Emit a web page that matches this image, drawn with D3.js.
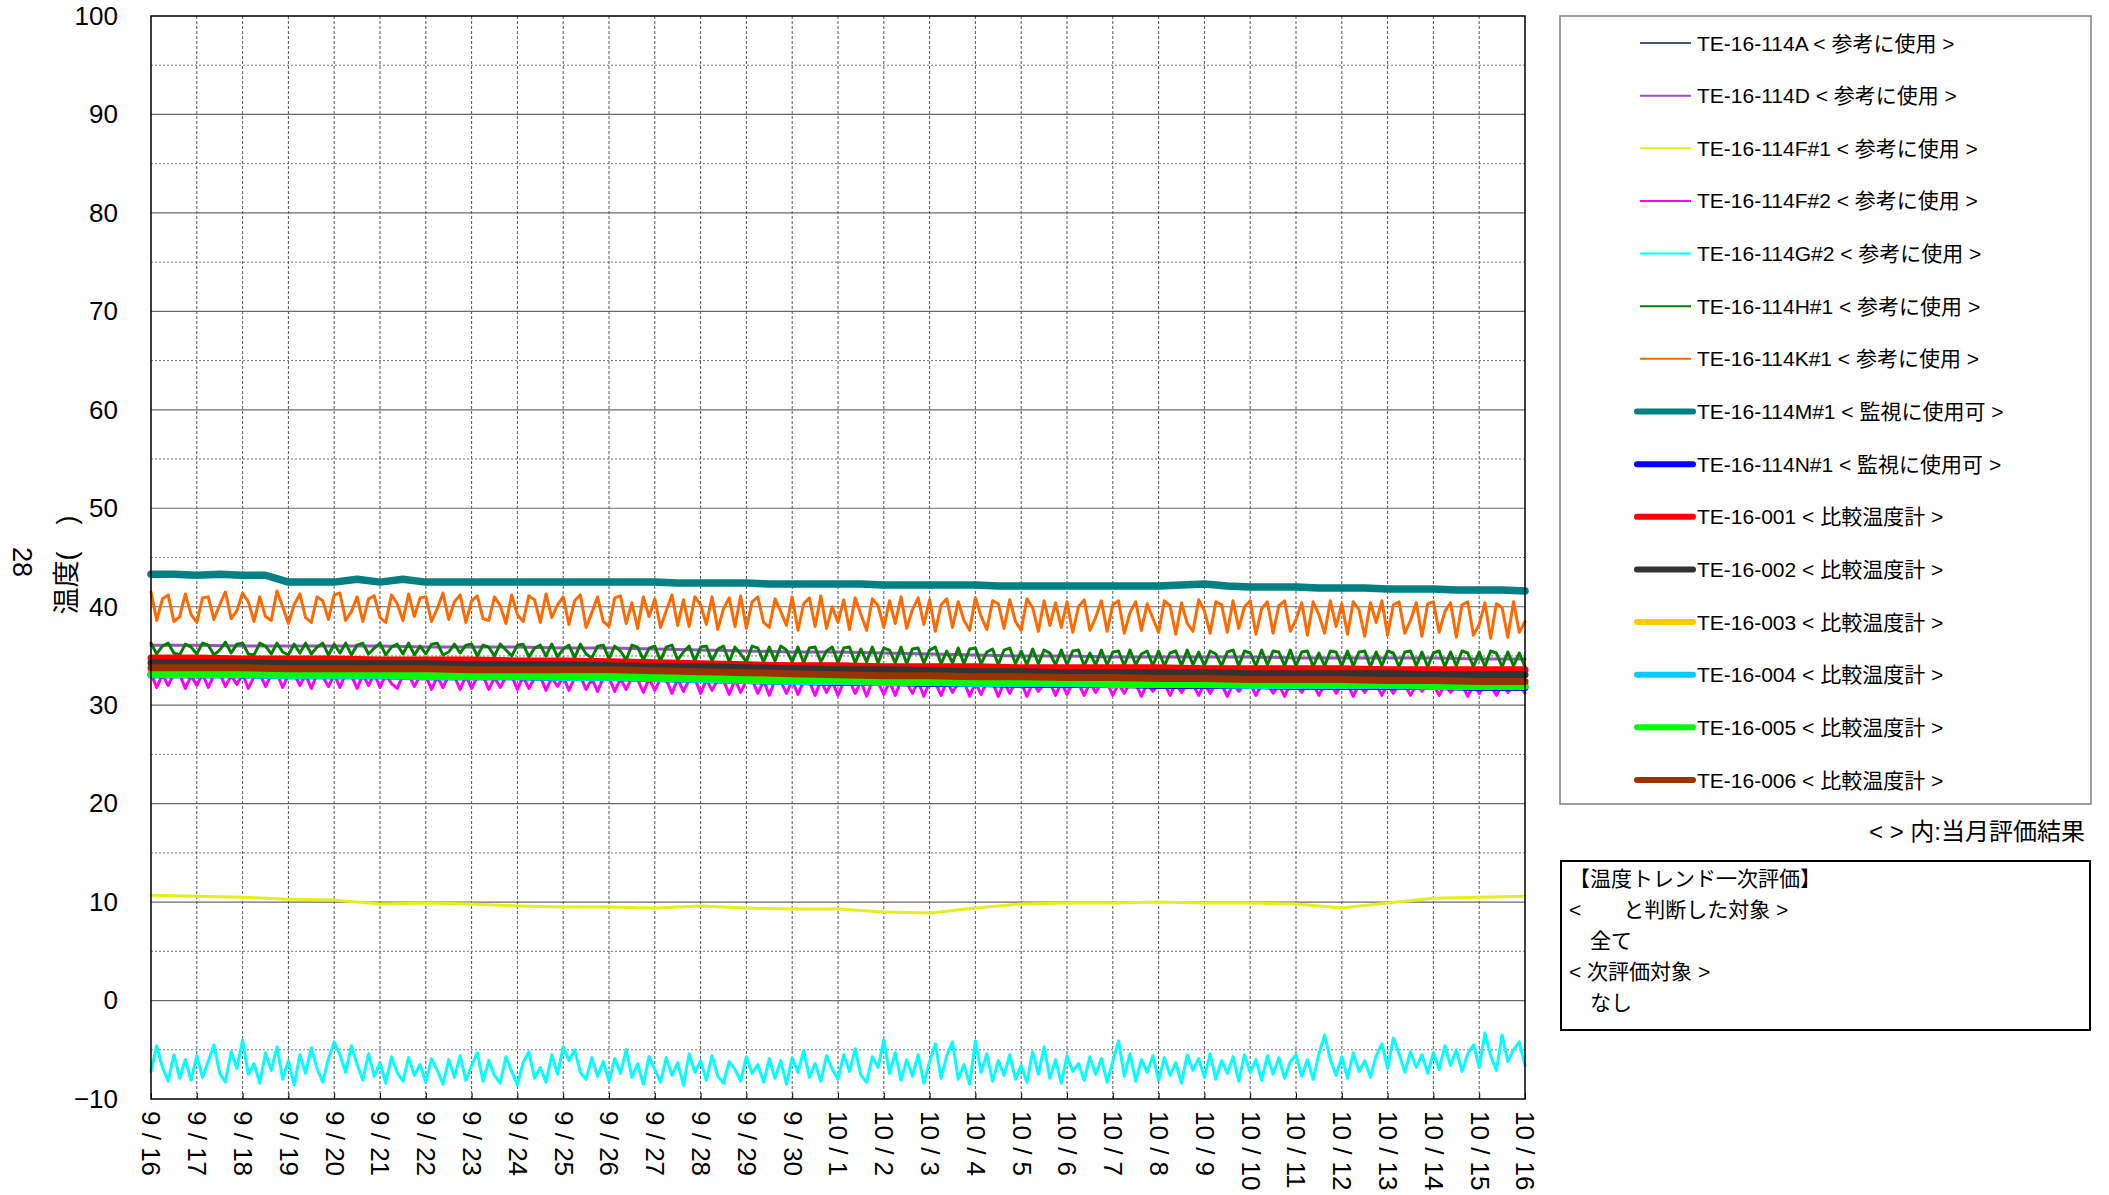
<!DOCTYPE html>
<html>
<head>
<meta charset="utf-8">
<script src="https://cdn.jsdelivr.net/npm/d3@7"></script>
<style>
  body { margin: 0; background: #fff; }
  svg { display: block; font-family: "Liberation Sans", "Noto Sans CJK JP", sans-serif; }
</style>
</head>
<body>
<svg id="chart"></svg>
<script>
// tick labels (one per day, 9/16 .. 10/16)
const dayLabels = ["9/16","9/17","9/18","9/19","9/20","9/21","9/22","9/23","9/24","9/25","9/26","9/27","9/28","9/29","9/30",
  "10/1","10/2","10/3","10/4","10/5","10/6","10/7","10/8","10/9","10/10","10/11","10/12","10/13","10/14","10/15","10/16"];
const yTicks = [-10, 0, 10, 20, 30, 40, 50, 60, 70, 80, 90, 100];

// daily values (1 point per day)
const te114A = [33.0,33.0,33.0,32.9,32.9,32.9,32.8,32.8,32.8,32.7,32.7,32.6,32.5,32.4,32.3,32.3,32.2,32.2,32.1,32.1,32.1,32.0,32.0,32.0,31.9,31.9,31.9,31.9,31.9,31.8,31.8];
const te114D = [36.1,36.1,36.0,36.0,36.0,36.0,35.9,35.9,35.9,35.8,35.8,35.7,35.6,35.5,35.4,35.4,35.3,35.2,35.1,35.0,35.0,34.9,34.9,34.9,34.9,34.8,34.8,34.8,34.8,34.7,34.7];
const te114F1 = [10.7,10.6,10.5,10.3,10.2,9.8,9.9,9.8,9.6,9.5,9.5,9.4,9.6,9.4,9.3,9.3,9.0,8.9,9.4,9.8,9.9,9.9,10.0,9.9,9.9,9.8,9.4,9.9,10.4,10.5,10.6];
const te114N1 = [33.1,33.1,33.1,33.0,33.0,33.0,32.9,32.9,32.9,32.8,32.8,32.7,32.6,32.5,32.4,32.3,32.3,32.2,32.2,32.1,32.1,32.1,32.0,32.0,32.0,31.9,31.9,31.9,31.9,31.8,31.8];
const te001 = [34.8,34.8,34.7,34.7,34.7,34.6,34.6,34.6,34.5,34.5,34.4,34.3,34.2,34.1,34.0,34.0,33.9,33.9,33.9,33.8,33.8,33.8,33.8,33.7,33.7,33.7,33.7,33.6,33.6,33.6,33.6];
const te002 = [34.3,34.3,34.3,34.2,34.2,34.2,34.2,34.1,34.1,34.1,34.0,33.9,33.9,33.8,33.7,33.6,33.6,33.5,33.4,33.4,33.3,33.3,33.3,33.3,33.2,33.2,33.2,33.2,33.1,33.1,33.1];
const te003 = [33.5,33.5,33.5,33.4,33.4,33.4,33.4,33.3,33.3,33.3,33.3,33.2,33.1,33.0,32.9,32.8,32.8,32.7,32.7,32.6,32.6,32.5,32.5,32.4,32.4,32.4,32.3,32.3,32.2,32.2,32.2];
const te004 = [33.1,33.1,33.1,33.0,33.0,33.0,32.9,32.9,32.9,32.8,32.8,32.7,32.6,32.5,32.4,32.4,32.3,32.3,32.2,32.2,32.2,32.1,32.1,32.1,32.0,32.0,32.0,32.0,31.9,31.9,31.9];
const te005 = [33.2,33.2,33.2,33.1,33.1,33.1,33.0,33.0,33.0,32.9,32.9,32.8,32.7,32.6,32.5,32.5,32.4,32.4,32.3,32.3,32.3,32.2,32.2,32.2,32.1,32.1,32.1,32.1,32.0,32.0,32.0];
const te006 = [33.8,33.8,33.8,33.7,33.7,33.7,33.7,33.6,33.6,33.6,33.6,33.5,33.4,33.3,33.2,33.1,33.0,33.0,32.9,32.9,32.8,32.8,32.7,32.7,32.6,32.6,32.6,32.5,32.5,32.4,32.4];

// half-day values (2 points per day)
const te114M1 = [43.3,43.3,43.2,43.3,43.2,43.2,42.5,42.5,42.5,42.8,42.5,42.8,42.5,42.5,42.5,42.5,42.5,42.5,42.5,42.5,42.5,
  42.5,42.5,42.4,42.4,42.4,42.4,42.3,42.3,42.3,42.3,42.3,42.2,42.2,42.2,42.2,42.2,42.1,42.1,42.1,42.1,
  42.1,42.1,42.1,42.1,42.2,42.3,42.1,42.0,42.0,42.0,41.9,41.9,41.9,41.8,41.8,41.8,41.7,41.7,41.7,41.6];

// 3-hourly values (8 points per day)
const te114F2 = [
  33.2,31.8,33.1,32.0,33.2,33.1,31.7,33.0, 32.0,33.2,31.8,33.1,33.2,31.9,33.0,32.1,
  33.2,31.7,32.9,33.2,31.9,33.1,33.2,31.8, 33.1,33.2,32.0,33.1,31.7,33.2,32.9,31.9,
  33.1,31.8,33.2,33.0,31.7,33.1,32.0,33.2, 31.8,33.1,32.2,31.7,33.0,33.1,31.9,33.0,
  33.0,31.6,32.9,31.8,33.0,32.9,31.6,33.0, 31.7,32.9,33.0,31.6,32.8,31.8,32.9,33.0,
  31.6,32.9,31.7,32.8,32.9,31.5,32.8,31.9, 32.9,31.5,32.8,32.9,31.6,32.7,31.4,32.8,
  32.8,31.4,32.7,31.6,32.8,32.6,31.3,32.7, 31.5,32.7,32.6,31.2,32.7,31.4,32.6,32.7,
  31.2,32.6,31.5,32.6,32.5,31.1,32.6,31.3, 32.5,32.6,31.2,32.5,31.0,32.6,32.4,31.2,
  32.5,31.1,32.5,32.4,31.0,32.5,31.3,32.4, 31.0,32.4,32.5,31.2,32.4,30.9,32.5,32.3,
  31.1,32.4,31.0,32.5,32.3,31.2,32.4,30.9, 32.4,32.3,31.0,32.4,31.3,32.3,32.4,30.9,
  32.3,31.1,32.4,32.3,30.9,32.3,31.2,32.4, 32.3,30.9,32.3,31.4,32.2,32.3,31.0,32.3,
  31.1,32.3,32.2,31.0,32.3,31.3,32.2,32.3, 31.0,32.2,31.2,32.3,32.2,30.9,32.2,31.4,
  32.2,32.3,31.0,32.2,31.3,32.2,32.1,31.0, 32.2,31.2,32.2,32.1,30.9,32.2,31.4,32.1,
  32.2,31.0,32.1,32.2,31.2,32.1,30.9,32.2, 32.1,31.3,32.2,32.1,31.0,32.1,32.2,31.2,
  32.1,32.2,30.9,32.1,31.3,32.2,32.1,31.0, 32.1,31.2,32.2,32.0,31.0,32.1,31.4,32.1,
  32.1,31.0,32.1,31.3,32.0,32.1,30.9,32.1, 31.2,32.1,32.0,31.0,32.1,31.3,32.0,32.1,
  31.2];
const te114G2 = [
  -7.2,-4.6,-6.8,-8.2,-5.5,-7.9,-6.0,-8.1, -5.6,-7.8,-6.2,-4.5,-7.4,-8.3,-5.2,-6.9,
  -4.0,-7.5,-6.4,-8.4,-5.3,-7.1,-4.7,-8.0, -6.1,-8.6,-5.5,-7.4,-4.8,-6.9,-8.3,-5.9,
  -4.2,-5.5,-7.3,-4.6,-6.5,-8.1,-5.4,-7.7, -6.3,-8.4,-5.7,-7.3,-8.2,-5.8,-7.6,-6.5,
  -8.3,-5.9,-7.1,-8.5,-6.0,-7.8,-5.6,-8.1, -6.6,-5.3,-8.2,-6.1,-7.6,-8.4,-5.7,-7.2,
  -8.6,-6.3,-5.2,-7.9,-6.8,-8.3,-5.5,-7.5, -4.7,-6.1,-5.0,-7.3,-8.0,-5.8,-7.7,-6.2,
  -8.2,-5.9,-7.4,-5.0,-7.8,-6.4,-8.5,-5.7, -7.0,-8.3,-5.8,-7.6,-6.3,-8.6,-5.4,-7.3,
  -6.1,-8.1,-5.6,-7.7,-8.4,-6.2,-7.0,-8.2, -5.7,-7.4,-6.5,-8.3,-5.9,-7.9,-6.1,-8.5,
  -5.8,-7.3,-5.1,-7.8,-6.4,-8.2,-5.6,-7.0, -8.0,-5.5,-7.2,-4.9,-7.6,-8.3,-5.7,-6.8,
  -4.0,-7.4,-5.3,-8.1,-6.0,-7.7,-5.5,-8.4, -6.2,-4.4,-7.9,-5.6,-4.2,-8.0,-6.5,-8.5,
  -4.1,-7.3,-5.4,-8.2,-6.1,-7.6,-5.5,-8.0, -6.6,-8.3,-5.2,-7.5,-4.7,-7.9,-6.0,-8.4,
  -5.6,-7.2,-6.4,-8.1,-5.7,-7.5,-5.9,-8.3, -6.2,-4.1,-7.7,-5.4,-8.2,-6.0,-7.3,-5.6,
  -8.1,-5.8,-7.6,-6.3,-8.4,-5.5,-7.1,-5.9, -7.8,-5.4,-8.0,-6.1,-7.4,-5.7,-8.2,-5.5,
  -7.3,-6.0,-8.1,-5.6,-7.5,-5.8,-7.9,-6.2, -5.5,-7.7,-6.0,-8.0,-5.4,-3.5,-6.0,-7.6,
  -5.7,-7.9,-5.3,-7.2,-6.1,-7.8,-5.6,-4.4, -6.9,-3.8,-5.4,-7.3,-5.2,-6.8,-5.5,-7.4,
  -5.3,-7.0,-4.6,-6.6,-5.0,-7.2,-5.4,-4.5, -6.8,-3.3,-5.6,-7.1,-3.5,-6.2,-5.0,-4.2,
  -6.6];
const te114H1 = [
  36.3,35.2,36.0,36.3,35.3,35.1,36.2,35.9, 35.2,36.3,36.1,35.1,35.6,36.4,35.3,36.2,
  36.3,35.2,35.1,36.3,36.0,35.2,36.3,35.4, 35.1,36.2,35.3,36.3,35.2,35.9,36.3,35.1,
  36.2,35.3,36.3,35.1,36.1,36.3,35.2,35.8, 36.3,35.1,35.9,36.2,35.2,36.3,35.1,36.0,
  35.2,36.2,36.3,35.1,35.4,36.2,35.3,36.1, 36.2,35.0,36.1,35.9,35.0,36.2,35.6,35.0,
  36.1,36.2,34.9,35.8,36.1,35.0,36.2,34.9, 35.7,36.1,34.8,36.2,35.2,34.8,36.0,36.1,
  34.7,36.0,35.5,34.6,36.1,35.9,34.6,35.8, 36.0,34.5,35.9,36.1,34.6,35.4,36.0,34.5,
  35.9,36.0,34.5,35.7,36.0,34.4,35.9,35.2, 34.4,36.0,35.8,34.4,35.9,34.5,36.0,35.6,
  34.4,35.9,34.3,35.8,35.9,34.4,35.5,35.9, 34.3,35.8,35.9,34.3,35.7,34.4,35.9,34.3,
  35.8,35.6,34.3,35.9,34.2,35.7,35.8,34.3, 35.6,35.9,34.2,35.5,34.3,35.8,34.2,35.7,
  35.8,34.2,35.4,35.7,34.1,35.6,35.8,34.2, 35.5,34.1,35.7,34.2,35.6,35.3,34.1,35.6,
  34.1,35.5,35.6,34.0,35.3,34.1,35.6,34.1, 35.4,35.5,34.0,35.6,34.1,35.2,35.5,34.0,
  35.5,34.0,35.3,35.5,34.0,35.6,34.1,35.4, 34.0,35.5,35.2,34.0,35.4,35.6,34.0,35.5,
  35.3,34.0,35.6,34.1,35.5,35.4,34.0,35.6, 34.0,35.4,35.5,33.9,35.3,34.0,35.5,35.4,
  34.0,35.5,34.0,35.4,35.5,33.9,35.4,34.0, 35.5,35.3,33.9,35.4,35.5,34.0,35.4,33.9,
  35.3,35.5,33.9,35.4,34.0,35.5,35.3,33.9, 35.4,33.9,35.5,35.3,33.9,35.4,34.0,35.3,
  33.9];
const te114K1 = [
  41.5,38.6,40.8,41.2,38.5,39.0,41.3,39.2, 38.4,40.9,41.0,38.7,40.2,41.5,38.8,39.6,
  41.4,40.5,38.5,41.0,39.0,38.6,41.6,40.0, 38.3,40.2,41.3,38.9,38.4,41.0,40.6,38.7,
  41.2,41.4,38.6,39.5,41.0,38.5,40.8,41.1, 38.9,38.4,41.2,40.3,38.6,41.3,39.0,40.9,
  41.0,38.5,39.8,41.4,38.7,40.5,41.2,38.4, 40.6,41.1,38.8,38.6,41.0,40.1,38.3,41.2,
  39.2,38.5,41.1,40.7,38.4,41.3,38.9,40.2, 41.0,38.2,40.6,41.2,37.9,39.4,41.0,38.5,
  38.0,40.9,41.1,38.3,40.4,37.8,41.0,39.0, 40.8,37.9,39.6,41.2,38.1,40.7,38.0,41.0,
  40.2,38.2,41.0,37.7,39.8,40.9,38.0,41.1, 37.8,40.5,41.0,38.4,37.9,40.8,39.5,38.1,
  41.0,37.6,40.3,40.9,38.0,41.1,37.8,40.0, 38.4,40.7,37.7,40.9,39.2,37.6,40.8,40.1,
  37.9,40.6,38.3,41.0,37.8,39.7,40.9,38.2, 40.7,37.5,40.2,40.8,37.9,40.5,38.6,37.6,
  40.9,39.0,37.7,40.6,40.3,37.8,40.7,38.5, 37.6,40.8,39.9,37.5,40.6,38.1,40.4,37.9,
  40.5,37.4,40.0,40.7,37.6,38.9,40.6,37.5, 40.2,40.6,37.3,39.4,40.5,37.6,40.3,38.8,
  37.4,40.6,40.1,37.2,40.4,38.3,37.5,40.7, 39.6,37.3,40.5,40.2,37.4,40.6,37.8,40.0,
  40.6,37.2,39.8,40.5,37.3,40.1,40.6,37.5, 38.7,40.4,37.1,40.5,39.2,37.3,40.6,38.0,
  40.3,37.2,40.5,39.7,37.0,40.4,38.4,40.6, 37.1,40.2,40.5,37.3,38.6,40.4,37.0,40.3,
  40.5,37.4,39.5,40.4,36.9,40.2,40.5,37.1, 38.2,40.4,36.8,40.3,39.9,36.9,40.5,37.4,
  38.5];

// series table: name, color, line width, points per day
const series = [
  { name: "TE-16-114A < 参考に使用 >", color: "#3d5a80", width: 3, perDay: 1, values: te114A },
  { name: "TE-16-114D < 参考に使用 >", color: "#9b4fc0", width: 3, perDay: 1, values: te114D },
  { name: "TE-16-114F#1 < 参考に使用 >", color: "#e6ef1e", width: 3, perDay: 1, values: te114F1 },
  { name: "TE-16-114F#2 < 参考に使用 >", color: "#ff00ff", width: 3, perDay: 8, values: te114F2 },
  { name: "TE-16-114G#2 < 参考に使用 >", color: "#00ffff", width: 3, perDay: 8, values: te114G2 },
  { name: "TE-16-114H#1 < 参考に使用 >", color: "#008000", width: 3, perDay: 8, values: te114H1 },
  { name: "TE-16-114K#1 < 参考に使用 >", color: "#ff6a00", width: 3, perDay: 8, values: te114K1 },
  { name: "TE-16-114M#1 < 監視に使用可 >", color: "#008080", width: 7.5, perDay: 2, values: te114M1 },
  { name: "TE-16-114N#1 < 監視に使用可 >", color: "#0000ff", width: 7, perDay: 1, values: te114N1 },
  { name: "TE-16-001 < 比較温度計 >", color: "#ff0000", width: 7, perDay: 1, values: te001 },
  { name: "TE-16-002 < 比較温度計 >", color: "#333333", width: 7, perDay: 1, values: te002 },
  { name: "TE-16-003 < 比較温度計 >", color: "#ffcc00", width: 7, perDay: 1, values: te003 },
  { name: "TE-16-004 < 比較温度計 >", color: "#00ccff", width: 7, perDay: 1, values: te004 },
  { name: "TE-16-005 < 比較温度計 >", color: "#00ff00", width: 7, perDay: 1, values: te005 },
  { name: "TE-16-006 < 比較温度計 >", color: "#993300", width: 7, perDay: 1, values: te006 }
];

const noteText = "< > 内:当月評価結果";
const evalLines = ["【温度トレンド一次評価】", "<　　と判断した対象 >", "　全て", "< 次評価対象 >", "　なし"];

const width = 2109, height = 1195;
const plot = { left: 151, right: 1525, top: 16, bottom: 1099 };

const svg = d3.select("#chart").attr("width", width).attr("height", height);

const x = d3.scaleLinear().domain([0, dayLabels.length - 1]).range([plot.left, plot.right]);
const y = d3.scaleLinear().domain([-10, 100]).range([plot.bottom, plot.top]);

// grid
const grid = svg.append("g");
grid.selectAll(".hminor")
  .data(d3.range(-5, 100, 10))
  .enter().append("line")
  .attr("x1", plot.left).attr("x2", plot.right)
  .attr("y1", d => y(d)).attr("y2", d => y(d))
  .attr("stroke", "#777").attr("stroke-width", 1).attr("stroke-dasharray", "2,2");
grid.selectAll(".hmajor")
  .data(yTicks.slice(1, -1))
  .enter().append("line")
  .attr("x1", plot.left).attr("x2", plot.right)
  .attr("y1", d => y(d)).attr("y2", d => y(d))
  .attr("stroke", "#6a6a6a").attr("stroke-width", 1.2);
grid.selectAll(".vgrid")
  .data(d3.range(1, dayLabels.length - 1))
  .enter().append("line")
  .attr("x1", d => x(d)).attr("x2", d => x(d))
  .attr("y1", plot.top).attr("y2", plot.bottom)
  .attr("stroke", "#555").attr("stroke-width", 1).attr("stroke-dasharray", "3,2");

// lines
const line = d3.line()
  .x(d => x(d.t))
  .y(d => y(d.v));

svg.append("g").selectAll("path")
  .data(series)
  .enter().append("path")
  .attr("d", s => line(s.values.map((v, i) => ({ t: i / s.perDay, v: v }))))
  .attr("fill", "none")
  .attr("stroke", s => s.color)
  .attr("stroke-width", s => s.width)
  .attr("stroke-linejoin", "round")
  .attr("stroke-linecap", "round");

// frame
svg.append("rect")
  .attr("x", plot.left).attr("y", plot.top)
  .attr("width", plot.right - plot.left).attr("height", plot.bottom - plot.top)
  .attr("fill", "none").attr("stroke", "#000").attr("stroke-width", 1.5);

// y axis
const yAxis = svg.append("g")
  .attr("transform", `translate(${plot.left},0)`)
  .call(d3.axisLeft(y).tickValues(yTicks).tickSize(0).tickPadding(33));
yAxis.select(".domain").remove();
yAxis.selectAll("text")
  .attr("font-size", 26).attr("fill", "#000")
  .attr("font-family", "Liberation Sans, Noto Sans CJK JP, sans-serif");

// x axis
const xAxis = svg.append("g")
  .attr("transform", `translate(0,${plot.bottom})`)
  .call(d3.axisBottom(x)
    .tickValues(d3.range(dayLabels.length))
    .tickFormat(i => dayLabels[i].replace("/", " / "))
    .tickSizeInner(-6).tickSizeOuter(0));
xAxis.select(".domain").remove();
xAxis.selectAll("line").attr("stroke", "#000");
xAxis.selectAll("text")
  .attr("font-size", 26).attr("fill", "#000")
  .attr("font-family", "Liberation Sans, Noto Sans CJK JP, sans-serif")
  .attr("text-anchor", "start")
  .attr("transform", "rotate(90)")
  .attr("x", 12).attr("y", 0).attr("dy", "0.35em");

// y title
svg.append("text")
  .attr("transform", "translate(67,565) rotate(-90)")
  .attr("text-anchor", "middle").attr("dominant-baseline", "central")
  .attr("font-size", 27)
  .text("温度(　)");
svg.append("text")
  .attr("transform", "translate(22,562) rotate(90)")
  .attr("text-anchor", "middle").attr("dominant-baseline", "central")
  .attr("font-size", 27)
  .text("28");

// legend
const legend = svg.append("g");
legend.append("rect")
  .attr("x", 1560).attr("y", 16).attr("width", 531).attr("height", 788)
  .attr("fill", "#fff").attr("stroke", "#7f7f7f").attr("stroke-width", 1.5);

const legendRow = d3.scaleLinear().domain([0, series.length - 1]).range([43, 780]);
const items = legend.selectAll(".item")
  .data(series)
  .enter().append("g")
  .attr("transform", (d, i) => `translate(0,${legendRow(i)})`);
items.append("line")
  .attr("x1", d => d.width > 4 ? 1637 : 1640)
  .attr("x2", d => d.width > 4 ? 1693 : 1691)
  .attr("y1", 0).attr("y2", 0)
  .attr("stroke", d => d.color)
  .attr("stroke-width", d => d.width > 4 ? 6 : 2)
  .attr("stroke-linecap", d => d.width > 4 ? "round" : "butt");
items.append("text")
  .attr("x", 1697).attr("y", 0)
  .attr("dominant-baseline", "central")
  .attr("font-size", 21)
  .text(d => d.name);

svg.append("text")
  .attr("x", 2085).attr("y", 831)
  .attr("text-anchor", "end").attr("dominant-baseline", "central")
  .attr("font-size", 24)
  .text(noteText);

// evaluation box
svg.append("rect")
  .attr("x", 1561).attr("y", 861).attr("width", 529).attr("height", 169)
  .attr("fill", "#fff").attr("stroke", "#000").attr("stroke-width", 2);
svg.append("g").selectAll("text")
  .data(evalLines)
  .enter().append("text")
  .attr("x", 1569)
  .attr("y", (d, i) => 878 + i * 31.2)
  .attr("dominant-baseline", "central")
  .attr("font-size", 21)
  .text(d => d);
</script>
</body>
</html>
